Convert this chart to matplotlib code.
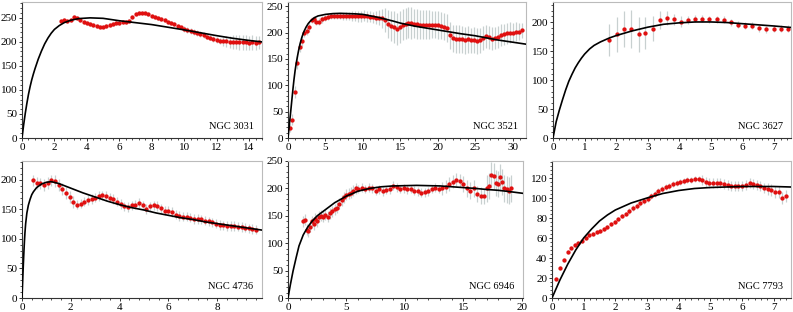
import numpy as np
import matplotlib
matplotlib.use("Agg")
import matplotlib.pyplot as plt
from matplotlib.ticker import AutoMinorLocator, MultipleLocator

plt.rcParams['font.family'] = ['Liberation Serif', 'DejaVu Serif']
plt.rcParams['font.size'] = 8

# ---- NGC 3031 ----
r1 = [2.4, 2.6, 2.8, 3.0, 3.2, 3.4, 3.6, 3.8, 4.0, 4.2,
      4.4, 4.6, 4.8, 5.0, 5.2, 5.4, 5.6, 5.8, 6.0, 6.2,
      6.4, 6.6, 6.8, 7.0, 7.2, 7.4, 7.6, 7.8, 8.0, 8.2,
      8.4, 8.6, 8.8, 9.0, 9.2, 9.4, 9.6, 9.8, 10.0, 10.2,
      10.4, 10.6, 10.8, 11.0, 11.2, 11.4, 11.6, 11.8, 12.0, 12.2,
      12.4, 12.6, 12.8, 13.0, 13.2, 13.4, 13.6, 13.8, 14.0, 14.2,
      14.4, 14.6]
v1 = [244, 246, 243, 246, 251, 250, 246, 242, 239, 237,
      235, 233, 232, 232, 233, 235, 237, 239, 240, 241,
      242, 244, 252, 258, 260, 260, 260, 258, 254, 252,
      250, 247, 245, 242, 240, 237, 234, 230, 227, 225,
      223, 221, 219, 217, 214, 211, 209, 206, 204, 202,
      201, 201, 200, 200, 200, 199, 199, 199, 198, 199,
      198, 199]
e1 = [4] * 38 + [6] * 12 + [10, 12, 12, 14, 14, 15, 15, 16, 15, 16, 15, 14]
c1_r = [0, 0.1, 0.2, 0.3, 0.4, 0.5, 0.6, 0.7, 0.8, 0.9, 1.0, 1.2, 1.4, 1.6, 1.8,
        2.0, 2.3, 2.6, 3.0, 3.5, 4.2, 5.0, 6.0, 7.0, 8.0, 9.0, 10.0, 11.0, 12.0,
        13.0, 14.0, 14.8]
c1_v = [0, 27, 51, 72, 91, 107, 121, 133, 144, 154, 164, 181, 196, 208, 218,
        226, 234, 240, 245, 248.5, 250, 249, 244, 240, 236, 230.5, 225, 219, 213,
        207.5, 203, 200]

# ---- NGC 3521 ----
r2 = [0.22, 0.58, 0.9, 1.24, 1.56, 1.87, 2.2, 2.5, 2.85, 3.15,
      3.5, 3.8, 4.1, 4.5, 4.9, 5.3, 5.7, 6.1, 6.5, 6.9,
      7.3, 7.7, 8.1, 8.5, 8.9, 9.3, 9.7, 10.1, 10.5, 10.9,
      11.3, 11.7, 12.1, 12.5, 12.9, 13.3, 13.7, 14.1, 14.5, 14.9,
      15.3, 15.7, 16.1, 16.5, 16.9, 17.3, 17.7, 18.1, 18.5, 18.9,
      19.3, 19.7, 20.1, 20.5, 20.9, 21.3, 21.7, 22.1, 22.5, 22.9,
      23.3, 23.7, 24.1, 24.5, 24.9, 25.3, 25.7, 26.1, 26.5, 26.9,
      27.3, 27.7, 28.1, 28.5, 28.9, 29.3, 29.7, 30.1, 30.5, 30.9,
      31.3]
v2 = [19, 35, 87, 143, 173, 184, 199, 203, 210, 224,
      225, 221, 221, 225, 228, 230, 232, 232, 232, 232,
      231, 231, 231, 231, 231, 231, 231, 232, 231, 230,
      229, 228, 228, 227, 224, 216, 212, 211, 207, 211,
      215, 217, 219, 218, 217, 216, 215, 215, 215, 215,
      215, 215, 214, 213, 211, 209, 195, 189, 188, 188,
      187, 185, 187, 185, 186, 184, 185, 189, 193, 191,
      188, 190, 192, 195, 197, 199, 200, 200, 202, 202,
      204]
e2 = [8, 10, 12, 12, 10, 10, 8, 8, 8, 6,
      6, 6, 6, 6, 6, 6, 6, 6, 6, 6,
      7, 8, 8, 9, 9, 10, 10, 10, 10, 10,
      10, 12, 14, 18, 22, 26, 28, 30, 30, 30,
      30, 30, 30, 30, 28, 28, 28, 27, 27, 27,
      26, 26, 26, 26, 26, 26, 26, 26, 26, 26,
      26, 25, 25, 24, 24, 24, 23, 23, 22, 22,
      22, 21, 21, 21, 20, 20, 20, 18, 18, 16,
      15]
c2_r = [0, 0.1, 0.2, 0.36, 0.5, 0.67, 0.8, 0.95, 1.1, 1.24, 1.4, 1.6, 1.85, 2.1,
        2.4, 2.7, 3.0, 3.5, 4.0, 5.0, 6.0, 7.0, 8.0, 9.0, 10.0, 12.0, 14.0, 15.0,
        17.0, 20.0, 23.0, 25.0, 28.0, 31.8]
c2_v = [0, 14, 28, 50, 70, 94, 111, 128, 142, 153, 165, 178, 191, 201,
        210, 217, 222, 228, 231.5, 234.5, 236, 236.5, 236, 235.5, 234.5, 229, 222, 218,
        212, 205, 198, 194, 186, 178]

# ---- NGC 3627 ----
r3 = [1.78, 2.02, 2.25, 2.48, 2.72, 2.92, 3.15, 3.37, 3.6, 3.82, 4.05, 4.28, 4.5,
      4.72, 4.95, 5.18, 5.4, 5.62, 5.85, 6.08, 6.3, 6.52, 6.75, 6.98, 7.2, 7.45]
v3 = [169, 179, 188, 188, 179, 181, 189, 204, 208, 205, 201, 204, 206,
      206, 205, 205, 204, 200, 196, 194, 194, 190, 188, 189, 189, 189]
e3 = [28, 30, 31, 33, 30, 28, 22, 16, 12, 10, 9, 7, 6,
      6, 6, 6, 6, 6, 6, 6, 6, 6, 6, 6, 6, 6]
c3_r = [0, 0.1, 0.2, 0.3, 0.4, 0.5, 0.6, 0.7, 0.8, 0.9, 1.0, 1.16, 1.3, 1.5,
        1.79, 2.0, 2.5, 3.0, 3.5, 4.0, 4.5, 5.0, 5.5, 6.0, 6.5, 7.0, 7.53]
c3_v = [0, 28, 48, 66, 83, 98, 110, 121, 130, 138, 145, 154, 160, 166,
        173, 177, 185, 191.5, 196.5, 199, 200.5, 200.5, 199.5, 197.5, 195.5, 193.5, 191]

# ---- NGC 4736 ----
r4 = [0.45, 0.60, 0.75, 0.90, 1.05, 1.20, 1.35, 1.50, 1.65, 1.80,
      1.95, 2.10, 2.25, 2.40, 2.55, 2.70, 2.85, 3.00, 3.15, 3.30,
      3.45, 3.60, 3.75, 3.90, 4.05, 4.20, 4.35, 4.50, 4.65, 4.80,
      4.95, 5.10, 5.25, 5.40, 5.55, 5.70, 5.85, 6.00, 6.15, 6.30,
      6.45, 6.60, 6.75, 6.90, 7.05, 7.20, 7.35, 7.50, 7.65, 7.80,
      7.95, 8.10, 8.25, 8.40, 8.55, 8.70, 8.85, 9.00, 9.15, 9.30,
      9.45, 9.60]
v4 = [199, 195, 194, 191, 195, 199, 198, 192, 185, 178,
      171, 163, 158, 160, 163, 166, 168, 170, 173, 174,
      173, 170, 168, 163, 159, 155, 154, 157, 158, 161,
      157, 151, 155, 157, 156, 152, 148, 148, 146, 141,
      139, 138, 138, 136, 134, 134, 133, 131, 130, 128,
      126, 124, 123, 122, 122, 122, 121, 120, 119, 118,
      117, 116]
e4 = [10] * 12 + [8] * 50
c4_r = [0, 0.03, 0.055, 0.08, 0.1, 0.12, 0.15, 0.2, 0.26, 0.33, 0.4, 0.47, 0.6,
        0.8, 1.0, 1.2, 1.5, 2.0, 2.5, 3.0, 3.5, 4.0, 4.5, 5.0, 5.5, 6.0, 6.5,
        7.0, 7.5, 8.0, 8.5, 9.0, 9.84]
c4_v = [0, 32, 57, 80, 96, 110, 126, 144, 157, 167, 175, 180, 187,
        193, 196, 197, 194, 186, 178, 171, 164, 158, 153, 149, 144, 140, 136,
        133, 129, 126, 123, 120, 115]

# ---- NGC 6946 ----
r5 = [1.3, 1.45, 1.6, 1.75, 1.9, 2.05, 2.2, 2.35, 2.5, 2.65, 2.8,
      3.0, 3.2, 3.4, 3.6, 3.8, 4.0, 4.2, 4.4, 4.6, 4.8, 5.0, 5.2, 5.4, 5.6, 5.8,
      6.0, 6.3, 6.6, 6.9, 7.2, 7.5, 7.8, 8.1, 8.4, 8.7,
      9.0, 9.3, 9.6, 9.9, 10.2, 10.5, 10.8, 11.1, 11.4, 11.7,
      12.0, 12.3, 12.6, 12.9, 13.2, 13.5, 13.8, 14.1, 14.4, 14.7,
      15.0, 15.3, 15.6, 15.9, 16.2, 16.5, 16.8,
      17.0, 17.2, 17.4, 17.6, 17.8, 18.0, 18.1, 18.3, 18.5, 18.7, 18.9, 19.1]
v5 = [140, 143, 125, 122, 130, 140, 135, 145, 140, 148, 150,
      148, 152, 148, 155, 158, 162, 165, 172, 178, 184, 188, 190, 192, 196, 200,
      199, 201, 199, 201, 200, 196, 198, 195, 197, 198,
      205, 202, 199, 200, 198, 199, 196, 195, 192, 193,
      195, 199, 201, 199, 200, 203, 208, 212, 216, 214,
      208, 200, 196, 200, 190, 187, 186,
      200, 205, 225, 222, 210, 208, 220, 212, 200, 198, 196, 200]
e5 = [10] * 26 + [8] * 24 + [12] * 6 + [15] * 7 + [24] * 12
c5_r = [0, 0.2, 0.43, 0.7, 0.94, 1.3, 1.7, 2.1, 2.5, 3.0, 3.5, 4.0, 4.5, 5.0,
        6.0, 7.0, 8.0, 9.0, 10.0, 11.0, 12.0, 13.0, 14.0, 15.0, 16.0, 17.0,
        18.0, 19.0, 20.1]
c5_v = [0, 24, 49, 74, 95, 115, 130, 141, 150, 158, 166, 174, 180, 186,
        195, 200, 203, 204.5, 205, 205.5, 205, 204.5, 203, 201.5, 200, 198,
        196.5, 194, 191]

# ---- NGC 7793 ----
r6 = [0.14, 0.26, 0.37, 0.49, 0.60, 0.72, 0.83, 0.95, 1.06, 1.18,
      1.29, 1.41, 1.52, 1.64, 1.75, 1.87, 1.98, 2.10, 2.21, 2.33,
      2.44, 2.56, 2.67, 2.79, 2.90, 3.02, 3.13, 3.25, 3.36, 3.48,
      3.59, 3.71, 3.82, 3.94, 4.05, 4.17, 4.28, 4.40, 4.51, 4.63,
      4.74, 4.86, 4.97, 5.09, 5.20, 5.32, 5.43, 5.55, 5.66, 5.78,
      5.89, 6.01, 6.12, 6.24, 6.35, 6.47, 6.58, 6.70, 6.81, 6.93,
      7.04, 7.16, 7.27, 7.39]
v6 = [19, 30, 38, 46, 50, 53, 55, 57, 60, 63,
      64, 66, 67, 69, 71, 74, 76, 79, 82, 84,
      87, 90, 92, 95, 97, 99, 102, 104, 107, 109,
      111, 112, 114, 115, 116, 117, 118, 118, 119, 119,
      118, 116, 115, 115, 115, 115, 114, 113, 112, 112,
      112, 112, 113, 115, 114, 113, 112, 110, 109, 108,
      106, 106, 100, 102]
e6 = [2] * 20 + [3] * 20 + [5] * 18 + [6] * 6
c6_r = [0, 0.25, 0.5, 0.75, 1.0, 1.25, 1.5, 1.75, 2.0, 2.5, 3.0, 3.5, 4.0, 4.5,
        5.0, 5.5, 6.0, 6.5, 7.0, 7.55]
c6_v = [0, 18, 34, 48, 60, 69, 77, 83, 88, 95, 100, 104.5, 107.5, 109.5,
        110.5, 111, 111.5, 111.5, 111.5, 111]

panels = [
    ("NGC 3031", r1, v1, e1, c1_r, c1_v, 14.8, 283, 2, 50),
    ("NGC 3521", r2, v2, e2, c2_r, c2_v, 31.8, 258, 5, 50),
    ("NGC 3627", r3, v3, e3, c3_r, c3_v, 7.53, 235, 1, 50),
    ("NGC 4736", r4, v4, e4, c4_r, c4_v, 9.84, 232, 2, 50),
    ("NGC 6946", r5, v5, e5, c5_r, c5_v, 20.1, 250, 5, 50),
    ("NGC 7793", r6, v6, e6, c6_r, c6_v, 7.55, 137, 1, 20),
]

W, H = 793, 312
boxes = [(22, 2, 262, 138), (288, 2, 526, 138), (553, 2, 791, 138),
         (22, 161, 262, 298), (288, 161, 523, 298), (552, 161, 791, 298)]

fig = plt.figure(figsize=(W / 100, H / 100), dpi=100)
for (name, r, v, e, cr, cv, xmax, ymax, xstep, ystep), (x0, y0, x1, y1) in zip(panels, boxes):
    ax = fig.add_axes([x0 / W, 1 - y1 / H, (x1 - x0) / W, (y1 - y0) / H])
    ax.errorbar(r, v, yerr=e, fmt='none', ecolor='#c8d0d0', elinewidth=0.9, capsize=0, zorder=1)
    ax.plot(r, v, 'o', color='#e01010', ms=3.1, mec='none', zorder=2)
    ax.plot(cr, cv, color='black', lw=1.2, zorder=3)
    ax.set_xlim(0, xmax)
    ax.set_ylim(0, ymax)
    ax.xaxis.set_major_locator(MultipleLocator(xstep))
    ax.yaxis.set_major_locator(MultipleLocator(ystep))
    ax.xaxis.set_minor_locator(AutoMinorLocator(5))
    ax.yaxis.set_minor_locator(AutoMinorLocator(5))
    ax.tick_params(which='major', direction='out', length=2.5, width=0.7, pad=1, labelsize=8, color='#333333')
    ax.tick_params(which='minor', direction='out', length=1.3, width=0.6, color='#333333')
    for s in ['top', 'right']:
        ax.spines[s].set_color('#bbbbbb')
        ax.spines[s].set_linewidth(0.8)
    for s in ['left', 'bottom']:
        ax.spines[s].set_color('#333333')
        ax.spines[s].set_linewidth(0.8)
    ax.text(0.965, 0.05, name, transform=ax.transAxes, ha='right', va='bottom', fontsize=7.5)

fig.savefig("out.png", dpi=100)
